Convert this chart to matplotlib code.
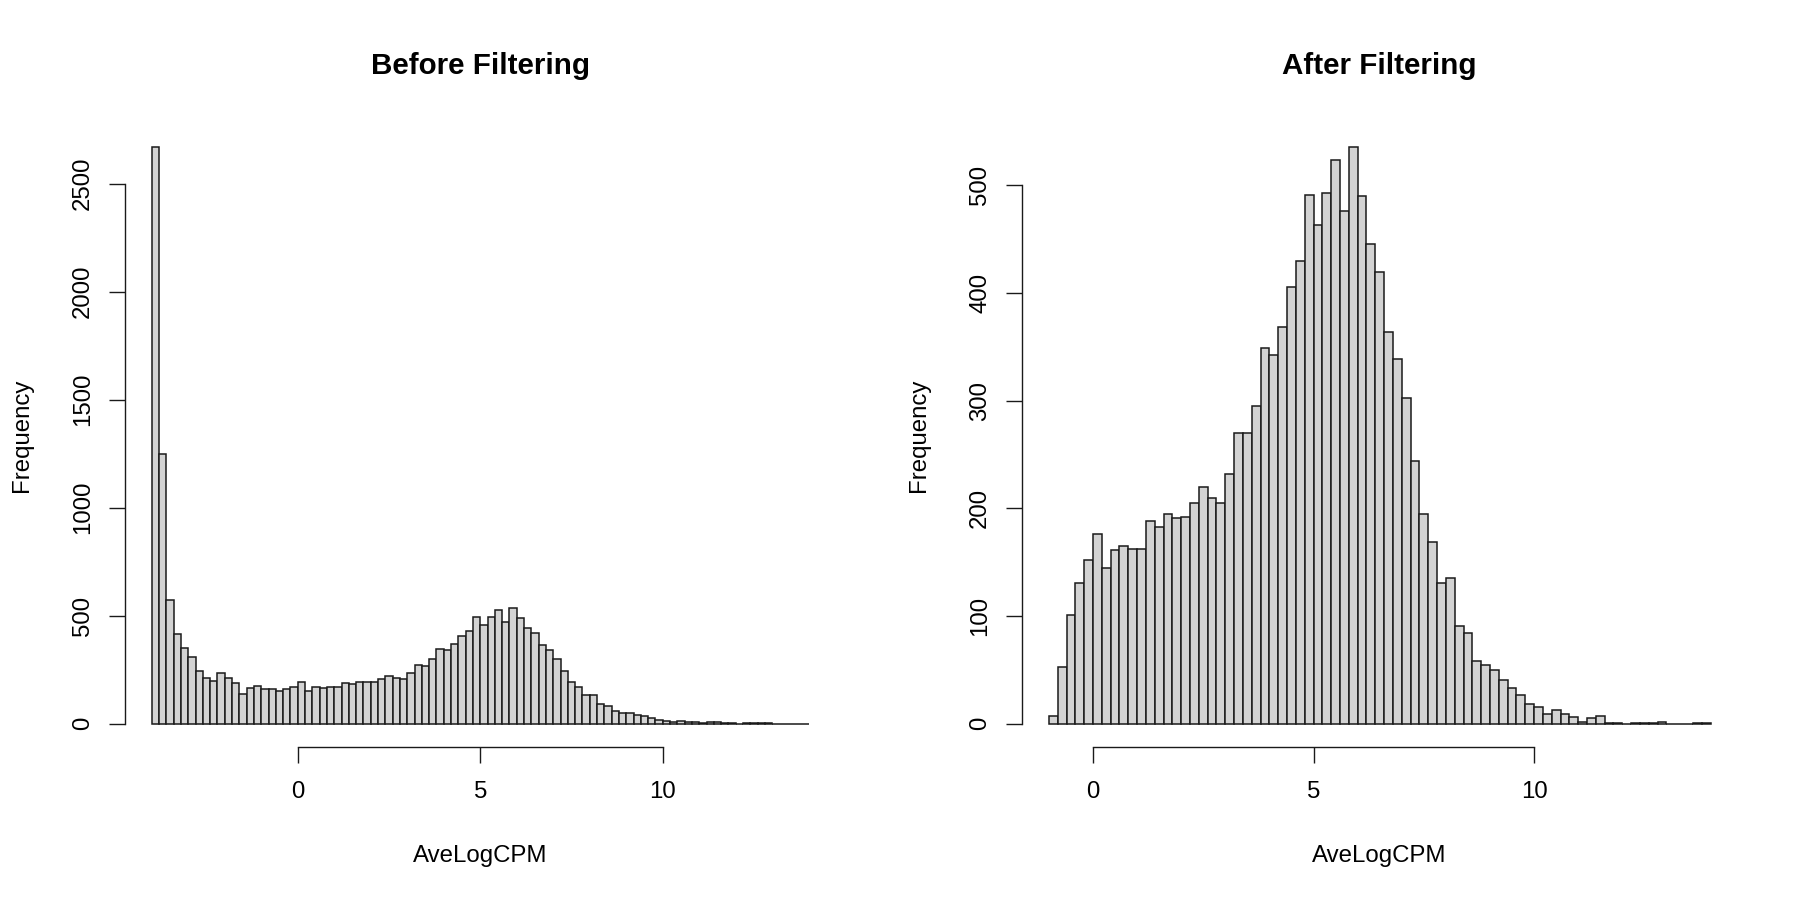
import matplotlib
matplotlib.use('Agg')
import matplotlib.pyplot as plt
import numpy as np

plt.rcParams['font.family'] = ['Liberation Sans', 'DejaVu Sans']

# Histogram counts (bin width 0.2)
before_start = -4.0
before_counts = [2668, 1251, 572, 416, 349, 309, 245, 212, 200, 235,
                 212, 189, 137, 166, 175, 163, 160, 154, 162, 171,
                 195, 154, 171, 166, 169, 169, 191, 185, 195, 192,
                 192, 206, 222, 212, 205, 234, 271, 266, 300, 346,
                 342, 369, 405, 431, 492, 458, 492, 525, 472, 534,
                 488, 443, 418, 363, 340, 302, 242, 194, 169, 131,
                 134, 92, 83, 60, 52, 51, 40, 34, 28, 18,
                 15, 9, 14, 9, 6, 5, 6, 9, 3, 2,
                 1, 2, 2, 2, 3, 1, 1, 1, 1, 1]

after_start = -1.0
after_counts = [7, 53, 101, 131, 152, 176, 145, 161, 165, 162,
                162, 188, 183, 195, 191, 192, 205, 220, 210, 205,
                232, 270, 270, 295, 349, 342, 368, 405, 430, 491,
                463, 493, 523, 476, 535, 490, 445, 419, 364, 339,
                302, 244, 195, 169, 131, 135, 91, 84, 58, 55,
                50, 41, 33, 27, 18, 16, 9, 13, 9, 6,
                2, 5, 7, 1, 1, 0, 1, 1, 1, 2,
                0, 0, 0, 1, 1]
bin_width = 0.2

x_ticks = [0, 5, 10]
before_yticks = [0, 500, 1000, 1500, 2000, 2500]
after_yticks = [0, 100, 200, 300, 400, 500]

FS = 17.3

fig = plt.figure(figsize=(18, 9), dpi=100)


def r_hist(rect, start, counts, yticks, title):
    ax = fig.add_axes(rect)
    counts = np.array(counts)
    edges = start + bin_width * np.arange(len(counts) + 1)
    ax.bar(edges[:-1], counts, width=bin_width, align='edge',
           color='#d3d3d3', edgecolor='#1a1a1a', linewidth=1.1)
    # R style 4% padding on the axis ranges
    xr = edges[-1] - edges[0]
    ax.set_xlim(edges[0] - 0.04 * xr, edges[-1] + 0.04 * xr)
    ymax = counts.max()
    ax.set_ylim(-0.04 * ymax, 1.04 * ymax)

    for s in ['top', 'right']:
        ax.spines[s].set_visible(False)
    ax.spines['left'].set_bounds(yticks[0], yticks[-1])
    ax.spines['bottom'].set_bounds(x_ticks[0], x_ticks[-1])
    for s in ['left', 'bottom']:
        ax.spines[s].set_linewidth(1.0)
        ax.spines[s].set_color('#1a1a1a')

    ax.set_xticks(x_ticks)
    ax.set_yticks(yticks)
    ax.set_yticklabels([str(v) for v in yticks], rotation=90, va='center')
    ax.tick_params(axis='both', length=11.5, width=1.0, labelsize=FS,
                   color='#1a1a1a')
    ax.tick_params(axis='x', pad=13)
    ax.tick_params(axis='y', pad=11)

    ax.set_title(title, fontsize=21.3, fontweight='bold', pad=36)
    ax.set_xlabel('AveLogCPM', fontsize=FS, labelpad=30)
    ax.set_ylabel('Frequency', fontsize=FS, labelpad=28)
    return ax


r_hist([0.0697, 0.1702, 0.3942, 0.6916], before_start, before_counts,
       before_yticks, 'Before Filtering')
r_hist([0.568, 0.1702, 0.397, 0.6916], after_start, after_counts,
       after_yticks, 'After Filtering')

fig.savefig('out.png', dpi=100)
